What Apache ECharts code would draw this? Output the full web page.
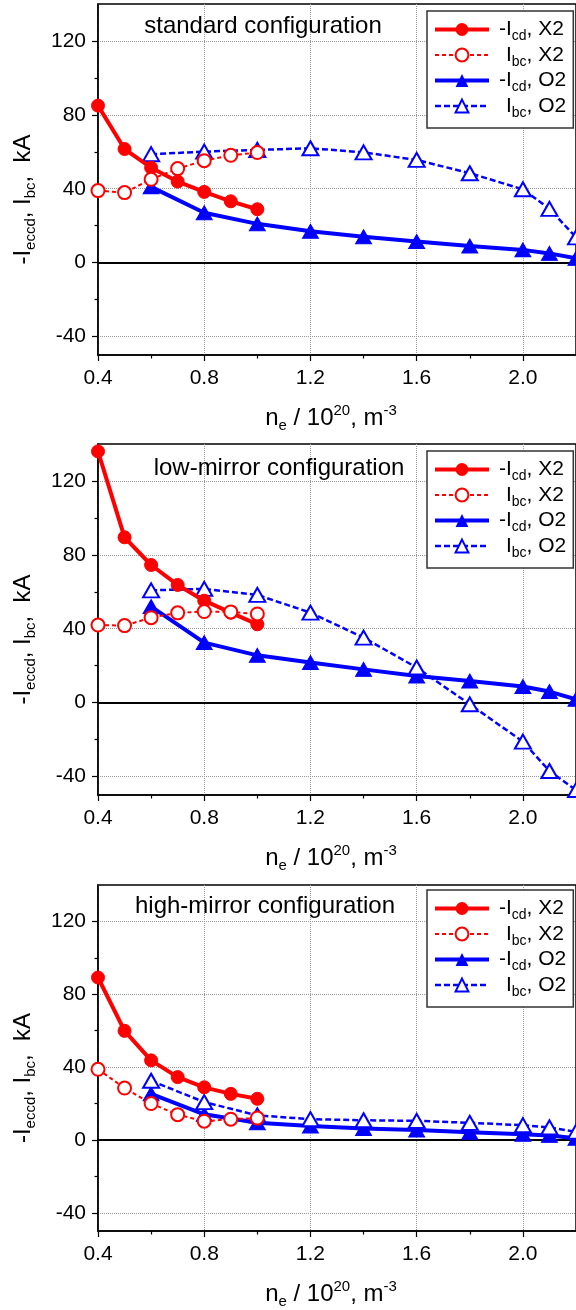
<!DOCTYPE html>
<html><head><meta charset="utf-8">
<script src="https://cdn.jsdelivr.net/npm/echarts@6/dist/echarts.min.js"></script>
<style>html,body{margin:0;padding:0;background:#fff}#c{width:576px;height:1310px}</style>
</head><body><div id="c"></div>
<script>
// ---------- data ----------
const panelTitles = ['standard configuration', 'low-mirror configuration', 'high-mirror configuration'];
const seriesNames = ['-Icd, X2', 'Ibc, X2', '-Icd, O2', 'Ibc, O2'];
const xTickLabels = ['0.4', '0.8', '1.2', '1.6', '2.0'];
const xMinorTicks = [0.6, 1.0, 1.4, 1.8];
const yTickLabels = ['-40', '0', '40', '80', '120'];
const yMinorTicks = [-20, 20, 60, 100];
const neX2 = [0.4, 0.5, 0.6, 0.7, 0.8, 0.9, 1.0];
const neO2 = [0.6, 0.8, 1.0, 1.2, 1.4, 1.6, 1.8, 2.0, 2.1, 2.2];
// standard configuration
const stdIcdX2 = [85, 61.5, 51.4, 43.9, 38.3, 33.2, 28.9];
const stdIbcX2 = [39, 37.9, 45.1, 50.9, 55.2, 58.1, 59.6];
const stdIcdO2 = [41, 27, 21, 17, 14, 11.4, 9, 6.9, 5, 2.3];
const stdIbcO2 = [58.7, 60.1, 61, 61.9, 59.7, 55.6, 48.4, 39.7, 29.1, 13.7];
// low-mirror configuration
const lowIcdX2 = [136, 89.5, 74.5, 63.7, 55.2, 48.7, 42.4];
const lowIbcX2 = [42, 41.7, 46, 48.6, 49.3, 49.1, 48];
const lowIcdO2 = [52, 32.5, 25.6, 21.7, 18, 14.4, 11.7, 8.7, 6, 1.8];
const lowIbcO2 = [60.8, 61.6, 58.3, 48.7, 35.2, 19, -0.9, -21.1, -37, -47.3];
// high-mirror configuration
const highIcdX2 = [89.2, 59.9, 43.7, 34.5, 28.9, 25.3, 22.6];
const highIbcX2 = [38.8, 28.5, 20, 13.9, 10.3, 11.4, 12];
const highIcdO2 = [25.3, 14.1, 9.4, 7.6, 6.3, 5.4, 4.2, 3.1, 2.5, 0.9];
const highIbcO2 = [32.5, 20.8, 13.5, 11.4, 10.8, 10.5, 9.4, 8.1, 6.9, 4.5];

const panels = [
  [stdIcdX2, stdIbcX2, stdIcdO2, stdIbcO2],
  [lowIcdX2, lowIbcX2, lowIcdO2, lowIbcO2],
  [highIcdX2, highIbcX2, highIcdO2, highIbcO2]
];

// ---------- layout / style ----------
const FONT = '"Liberation Sans", Arial, sans-serif';
const gridTops = [4, 444, 885];
const gridH = 351, gridL = 98, gridW = 480;
const titleX = [263, 279, 265];
const titleTop = [14, 456, 894];
const legendTop = [11, 451, 890];
const RED = '#ff0000', BLUE = '#0000ff';

const seriesStyle = [
  { symbol: 'circle', symbolSize: 13, color: RED, lineStyle: { width: 4, type: 'solid' } },
  { symbol: 'emptyCircle', symbolSize: 13, color: RED, lineStyle: { width: 2, type: [4, 3] }, itemStyle: { borderWidth: 1.5 } },
  { symbol: 'triangle', symbolSize: [16, 14], color: BLUE, lineStyle: { width: 4, type: 'solid' } },
  { symbol: 'emptyTriangle', symbolSize: [16, 14], color: BLUE, lineStyle: { width: 2.5, type: [6, 3] }, itemStyle: { borderWidth: 1.5 } }
];

const grids = [], xAxes = [], yAxes = [], series = [], titles = [], legends = [];
const axisText = { color: '#000', fontSize: 21, fontFamily: FONT };

panels.forEach((p, k) => {
  grids.push({ left: gridL, width: gridW, top: gridTops[k], height: gridH, show: true,
    borderColor: '#000', borderWidth: 1.5, backgroundColor: 'transparent' });
  // main x axis
  xAxes.push({
    type: 'value', gridIndex: k, min: 0.4, max: 2.2, position: 'bottom',
    name: '{m|n}{s|e}{m| / 10}{p|20}{m|, m}{p|-3}',
    nameLocation: 'middle', nameGap: 48,
    nameTextStyle: { padding: [0, 12, 0, 0], color: '#000',
      rich: {
        m: { fontSize: 24, lineHeight: 30, fontFamily: FONT, color: '#000' },
        s: { fontSize: 15, lineHeight: 4, verticalAlign: 'bottom', fontFamily: FONT, color: '#000' },
        p: { fontSize: 15, lineHeight: 8, verticalAlign: 'top', fontFamily: FONT, color: '#000' }
      } },
    axisLine: { onZero: false, lineStyle: { color: '#000', width: 1.5 } },
    axisTick: { length: 6, customValues: xTickLabels.map(Number), lineStyle: { color: '#000', width: 1.2 } },
    axisLabel: { customValues: xTickLabels.map(Number), margin: 13, ...axisText,
      formatter: v => v.toFixed(1) },
    splitLine: { show: true, lineStyle: { color: '#999', type: 'dotted', width: 1 } }
  });
  // minor x ticks
  xAxes.push({
    type: 'value', gridIndex: k, min: 0.4, max: 2.2, position: 'bottom',
    axisLine: { show: false, onZero: false },
    axisTick: { length: 3.5, customValues: xMinorTicks, lineStyle: { color: '#000', width: 1.2 } },
    axisLabel: { show: false }, splitLine: { show: false }
  });
  // main y axis
  yAxes.push({
    type: 'value', gridIndex: k, min: -50, max: 140, position: 'left',
    name: '{n|-I}{s|eccd}{m|, I}{s|bc}{m|,  kA}',
    nameLocation: 'middle', nameRotate: 90, nameGap: 60,
    nameTextStyle: { padding: [0, 40, 0, 0], color: '#000',
      rich: {
        n: { fontSize: 24, lineHeight: 30, fontFamily: FONT, color: '#000' },
        m: { fontSize: 24, lineHeight: 30, fontFamily: FONT, color: '#000' },
        s: { fontSize: 15, lineHeight: 4, verticalAlign: 'bottom', fontFamily: FONT, color: '#000' }
      } },
    axisLine: { onZero: false, lineStyle: { color: '#000', width: 1.5 } },
    axisTick: { length: 6, customValues: yTickLabels.map(Number), lineStyle: { color: '#000', width: 1.2 } },
    axisLabel: { customValues: yTickLabels.map(Number), margin: 12, ...axisText },
    splitLine: { show: true, lineStyle: { color: '#999', type: 'dotted', width: 1 } }
  });
  // minor y ticks
  yAxes.push({
    type: 'value', gridIndex: k, min: -50, max: 140, position: 'left',
    axisLine: { show: false, onZero: false },
    axisTick: { length: 3.5, customValues: yMinorTicks, lineStyle: { color: '#000', width: 1.2 } },
    axisLabel: { show: false }, splitLine: { show: false }
  });

  p.forEach((vals, j) => {
    const xs = (j < 2) ? neX2 : neO2;
    const st = seriesStyle[j];
    const s = {
      type: 'line', name: seriesNames[j], xAxisIndex: 2 * k, yAxisIndex: 2 * k,
      data: xs.map((x, i) => [x, vals[i]]),
      symbol: st.symbol, symbolSize: st.symbolSize,
      color: st.color,
      lineStyle: Object.assign({ color: st.color }, st.lineStyle),
      itemStyle: Object.assign({ color: st.color, borderColor: st.color }, st.itemStyle || {}),
      z: j < 2 ? 4 : 3
    };
    if (j === 0) {
      s.markLine = { silent: true, symbol: 'none', z: 1, label: { show: false },
        lineStyle: { color: '#000', type: 'solid', width: 1.8 }, data: [{ yAxis: 0 }] };
    }
    series.push(s);
  });

  titles.push({ text: panelTitles[k], left: titleX[k], top: titleTop[k], padding: 0,
    textAlign: 'center', textVerticalAlign: 'top',
    textStyle: { fontSize: 24, fontWeight: 'normal', color: '#000', fontFamily: FONT } });

  legends.push({
    data: seriesNames.map((n, j) => ({ name: n,
      lineStyle: { width: seriesStyle[j].lineStyle.width, type: seriesStyle[j].lineStyle.type, color: seriesStyle[j].color } })),
    orient: 'vertical', left: 427, top: legendTop[k],
    itemWidth: 54, itemHeight: 16, itemGap: 1, padding: [8, 7, 8, 6],
    borderColor: '#333', borderWidth: 1.5, backgroundColor: '#fff', selectedMode: false,
    formatter: name => {
      const neg = name[0] === '-';
      const base = neg ? name.slice(1) : name;
      return (neg ? '{n|-I}' : '{i|I}') + '{s|' + base.slice(1, 3) + '}' + '{m|' + base.slice(3) + '}';
    },
    textStyle: { color: '#000', fontFamily: FONT,
      rich: {
        n: { fontSize: 21, lineHeight: 28, padding: [0, 0, 0, 5], fontFamily: FONT, color: '#000' },
        i: { fontSize: 21, lineHeight: 28, padding: [0, 0, 0, 12], fontFamily: FONT, color: '#000' },
        m: { fontSize: 21, lineHeight: 28, fontFamily: FONT, color: '#000' },
        s: { fontSize: 14, lineHeight: 8, verticalAlign: 'bottom', fontFamily: FONT, color: '#000' }
      } }
  });
});

const chart = echarts.init(document.getElementById('c'), null, { renderer: 'canvas' });
chart.setOption({
  animation: false,
  backgroundColor: '#fff',
  textStyle: { fontFamily: FONT },
  title: titles,
  legend: legends,
  grid: grids,
  xAxis: xAxes,
  yAxis: yAxes,
  series: series
});
</script>
</body></html>
